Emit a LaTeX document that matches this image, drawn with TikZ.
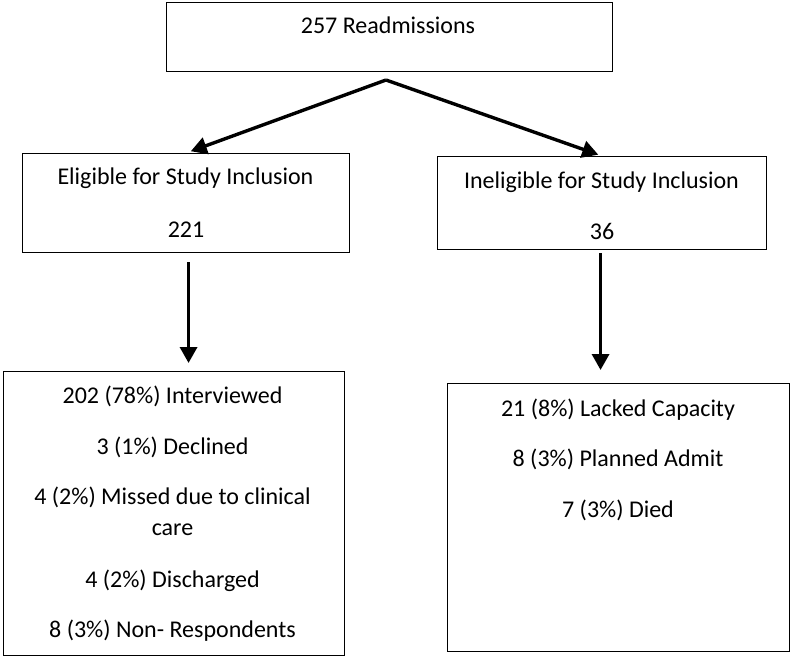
\documentclass[tikz,border=0pt]{standalone}
\usepackage{fontspec}
\setmainfont{Carlito}
\usetikzlibrary{arrows.meta}

\begin{document}
\begin{tikzpicture}[x=1pt,y=-1pt,font=\fontsize{24}{29}\selectfont,
  box/.style={draw=black, line width=1.1pt, anchor=north west, inner sep=0pt},
  arr/.style={line width=3.4pt, -{Triangle[length=16pt,width=17pt]}}]
\useasboundingbox (0,0) rectangle (792,658);
\node[box, minimum width=446pt, minimum height=69pt] (total) at (166,2) {};
\node[box, minimum width=327pt, minimum height=99pt] (elig) at (22,153) {};
\node[box, minimum width=329pt, minimum height=93pt] (inelig) at (437,156) {};
\node[box, minimum width=341pt, minimum height=284pt] (respond) at (3,371) {};
\node[box, minimum width=342pt, minimum height=268pt] (excl) at (447,383) {};
\node[anchor=base] (totaltxt) at (388,34) {257 Readmissions};
\node[anchor=base] (eligtxt) at (185.5,184) {Eligible for Study Inclusion};
\node[anchor=base] (elign) at (186,237) {221};
\node[anchor=base] (ineligtxt) at (601.5,188) {Ineligible for Study Inclusion};
\node[anchor=base] (inelign) at (602,239) {36};
\node[anchor=base] (interviewed) at (172.5,403) {202 (78\%) Interviewed};
\node[anchor=base] (declined) at (172.5,454) {3 (1\%) Declined};
\node[anchor=base] (missed) at (172.5,504) {4 (2\%) Missed due to clinical};
\node[anchor=base] (missedb) at (172.5,535) {care};
\node[anchor=base] (discharged) at (172.5,587) {4 (2\%) Discharged};
\node[anchor=base] (nonresp) at (172.5,637) {8 (3\%) Non- Respondents};
\node[anchor=base] (capacity) at (618,416) {21 (8\%) Lacked Capacity};
\node[anchor=base] (planned) at (618,466) {8 (3\%) Planned Admit};
\node[anchor=base] (died) at (618,517) {7 (3\%) Died};
% arrows
\coordinate (split) at (386,80);
\draw[arr, shorten >=5pt] (split) -- (elig.north);
\draw[arr, shorten >=4pt] (split) -- (inelig.north);
\draw[arr, shorten <=9pt, shorten >=8pt] ([xshift=2.5pt]elig.south) -- ([xshift=2.5pt]elig.south |- respond.north);
\draw[arr, shorten <=3pt, shorten >=13pt] ([xshift=-1.5pt]inelig.south) -- ([xshift=-1.5pt]inelig.south |- excl.north);
\end{tikzpicture}
\end{document}
